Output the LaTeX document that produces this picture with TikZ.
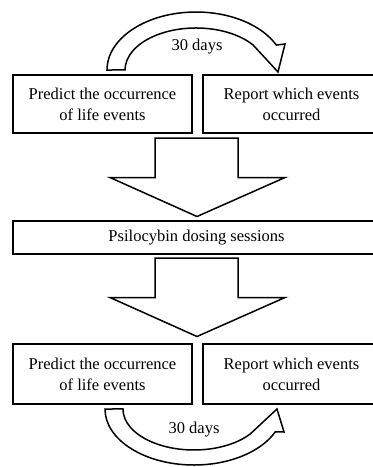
\documentclass[tikz,border=0pt]{standalone}
\usepackage{fontspec}
\setmainfont{Liberation Serif}
\tikzset{
  box/.style={draw,align=center,inner sep=0pt,font=\fontsize{16.5}{21}\selectfont},
  daylabel/.style={font=\fontsize{16.5}{21}\selectfont}
}
\begin{document}
\begin{tikzpicture}[x=1pt,y=-1pt,line width=1.5pt,line join=miter]
	\useasboundingbox (0,0) rectangle (373,467);
	\clip (0,0) rectangle (373,467);

	\node[box,minimum width=179pt,minimum height=58pt] (predictA) at (102.5,104) {Predict the occurrence\\of life events};
	\node[box,minimum width=177pt,minimum height=58pt] (reportA) at (291.5,104) {Report which events\\occurred};
	\node[box,minimum width=367pt,minimum height=33pt] (dosing) at (196.5,237.5) {Psilocybin dosing sessions};
	\node[box,minimum width=179pt,minimum height=60pt] (predictB) at (102.5,374) {Predict the occurrence\\of life events};
	\node[box,minimum width=177pt,minimum height=60pt] (reportB) at (291.5,374) {Report which events\\occurred};

	% big down arrows
	\foreach \t in {138,258}{
		\draw (155,\t) -- (155,\t+39.5) -- (110,\t+39.5) -- (197,\t+78.5) -- (285,\t+39.5) -- (238,\t+39.5) -- (238,\t) -- cycle;
	}

	% curved arrows
	\draw (107,70) arc(180:334.5:89 and 58) -- (285,44) -- (278,72) -- (253.1,45) arc(323.5:180:71 and 42) -- cycle;
	\node[daylabel] (daysA) at (197,47) {30 days};

	\draw (105,409) arc(180:24:89 and 56) -- (284,432) -- (277,409) -- (250.2,434) arc(37.6:180:71 and 41) -- cycle;
	\node[daylabel] (daysB) at (194,430) {30 days};
\end{tikzpicture}
\end{document}
